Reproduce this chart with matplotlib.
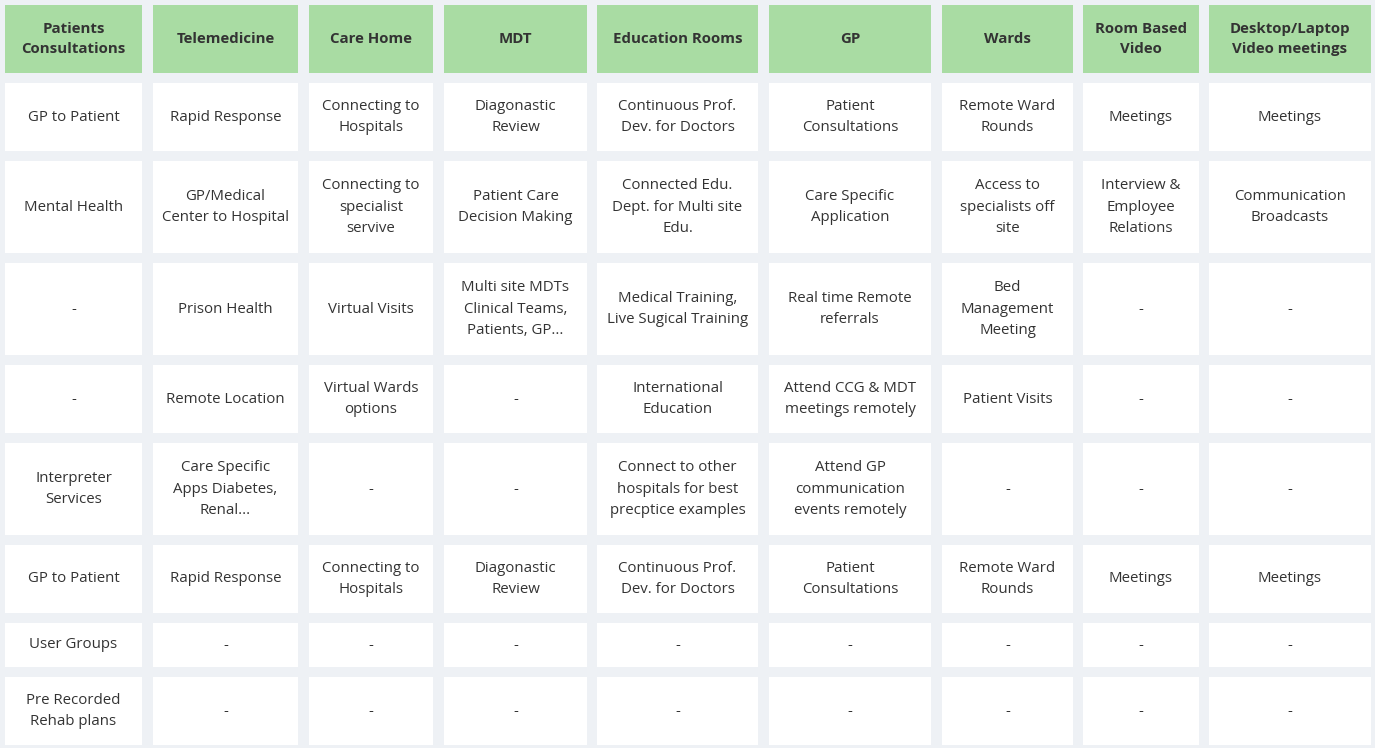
import matplotlib.pyplot as plt
from matplotlib.patches import Rectangle

headers = ["Patients\nConsultations", "Telemedicine", "Care Home", "MDT", "Education Rooms",
           "GP", "Wards", "Room Based\nVideo", "Desktop/Laptop\nVideo meetings"]

rows = [
    ["GP to Patient", "Rapid Response", "Connecting to\nHospitals", "Diagonastic\nReview",
     "Continuous Prof.\nDev. for Doctors", "Patient\nConsultations", "Remote Ward\nRounds", "Meetings", "Meetings"],
    ["Mental Health", "GP/Medical\nCenter to Hospital", "Connecting to\nspecialist\nservive", "Patient Care\nDecision Making",
     "Connected Edu.\nDept. for Multi site\nEdu.", "Care Specific\nApplication", "Access to\nspecialists off\nsite",
     "Interview &\nEmployee\nRelations", "Communication\nBroadcasts"],
    ["-", "Prison Health", "Virtual Visits", "Multi site MDTs\nClinical Teams,\nPatients, GP...",
     "Medical Training,\nLive Sugical Training", "Real time Remote\nreferrals", "Bed\nManagement\nMeeting", "-", "-"],
    ["-", "Remote Location", "Virtual Wards\noptions", "-", "International\nEducation",
     "Attend CCG & MDT\nmeetings remotely", "Patient Visits", "-", "-"],
    ["Interpreter\nServices", "Care Specific\nApps Diabetes,\nRenal...", "-", "-",
     "Connect to other\nhospitals for best\nprecptice examples", "Attend GP\ncommunication\nevents remotely", "-", "-", "-"],
    ["GP to Patient", "Rapid Response", "Connecting to\nHospitals", "Diagonastic\nReview",
     "Continuous Prof.\nDev. for Doctors", "Patient\nConsultations", "Remote Ward\nRounds", "Meetings", "Meetings"],
    ["User Groups", "-", "-", "-", "-", "-", "-", "-", "-"],
    ["Pre Recorded\nRehab plans", "-", "-", "-", "-", "-", "-", "-", "-"],
]
rows[4][4] = "Connect to other\nhospitals for best\nprecptice examples"

# column and row edges in pixels
col_x = [(5, 142), (153, 298), (309, 433), (444, 587), (597, 758),
         (769, 931), (942, 1073), (1083, 1199), (1209, 1371)]
row_y = [(5, 73), (83, 151), (161, 253), (263, 355), (365, 433),
         (443, 535), (545, 613), (623, 667), (677, 745)]

fig = plt.figure(figsize=(13.75, 7.48), dpi=100)
fig.patch.set_facecolor("#eef1f5")
ax = fig.add_axes([0, 0, 1, 1])
ax.set_xlim(0, 1375)
ax.set_ylim(748, 0)
ax.axis("off")

plt.rcParams["font.family"] = "Open Sans"

for r, (y0, y1) in enumerate(row_y):
    cells = headers if r == 0 else rows[r - 1]
    for c, (x0, x1) in enumerate(col_x):
        fc = "#a9dca3" if r == 0 else "white"
        ax.add_patch(Rectangle((x0, y0), x1 - x0, y1 - y0, facecolor=fc, edgecolor="none"))
        ax.text((x0 + x1) / 2, (y0 + y1) / 2, cells[c], ha="center", va="center",
                fontsize=10.8, linespacing=1.6, color="#333333",
                fontweight="bold" if r == 0 else "normal", family="Open Sans")

fig.savefig("out.png", dpi=100, facecolor=fig.get_facecolor())
